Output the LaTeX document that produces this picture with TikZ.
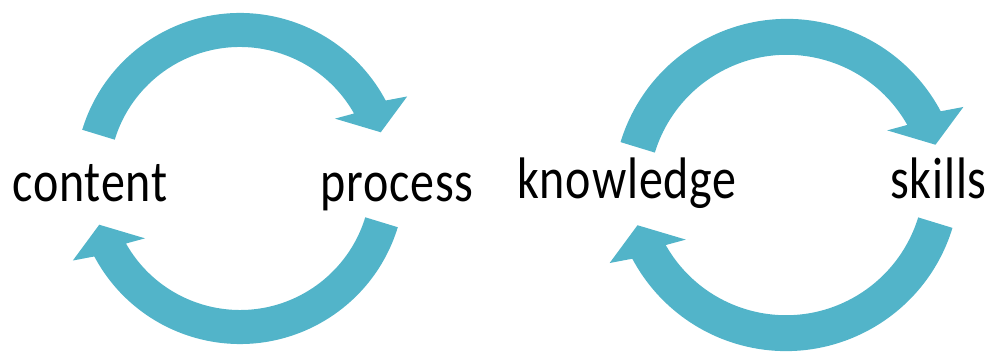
\documentclass[tikz,border=0pt]{standalone}
\usepackage{graphicx}
\usepackage{fontspec}
\setmainfont{Carlito}[LetterSpace=1.8]
\definecolor{cyclecol}{RGB}{82,180,201}
\newcommand{\tallword}[1]{\scalebox{1}[1.22]{#1}}
\tikzset{
  halfloop/.pic={
    \fill[cyclecol] (163:165) arc (163:28:165) -- (26:186) -- (18:148)
      -- (32:112) -- (29.5:131) arc (29.5:163:131) -- cycle;
  },
  word/.style={inner sep=0pt, anchor=base west, font=\fontsize{36}{40}\selectfont}
}

\begin{document}
\begin{tikzpicture}[x=0.75pt,y=0.75pt]
                \useasboundingbox (0,0) rectangle (994,352);
                \pic at (240,174) {halfloop};
                \pic[rotate=180] at (240,173) {halfloop};
                \pic[scale=1.055] at (787,159) {halfloop};
                \pic[scale=1.055, rotate=180] at (786,175) {halfloop};
                \node[word] (content) at (12,150) {\tallword{content}};
                \node[word] (process) at (320,150) {\tallword{process}};
                \node[word] (knowledge) at (517,153) {\tallword{knowledge}};
                \node[word, anchor=base east] (skills) at (987,153) {\tallword{skills}};
\end{tikzpicture}
\end{document}
